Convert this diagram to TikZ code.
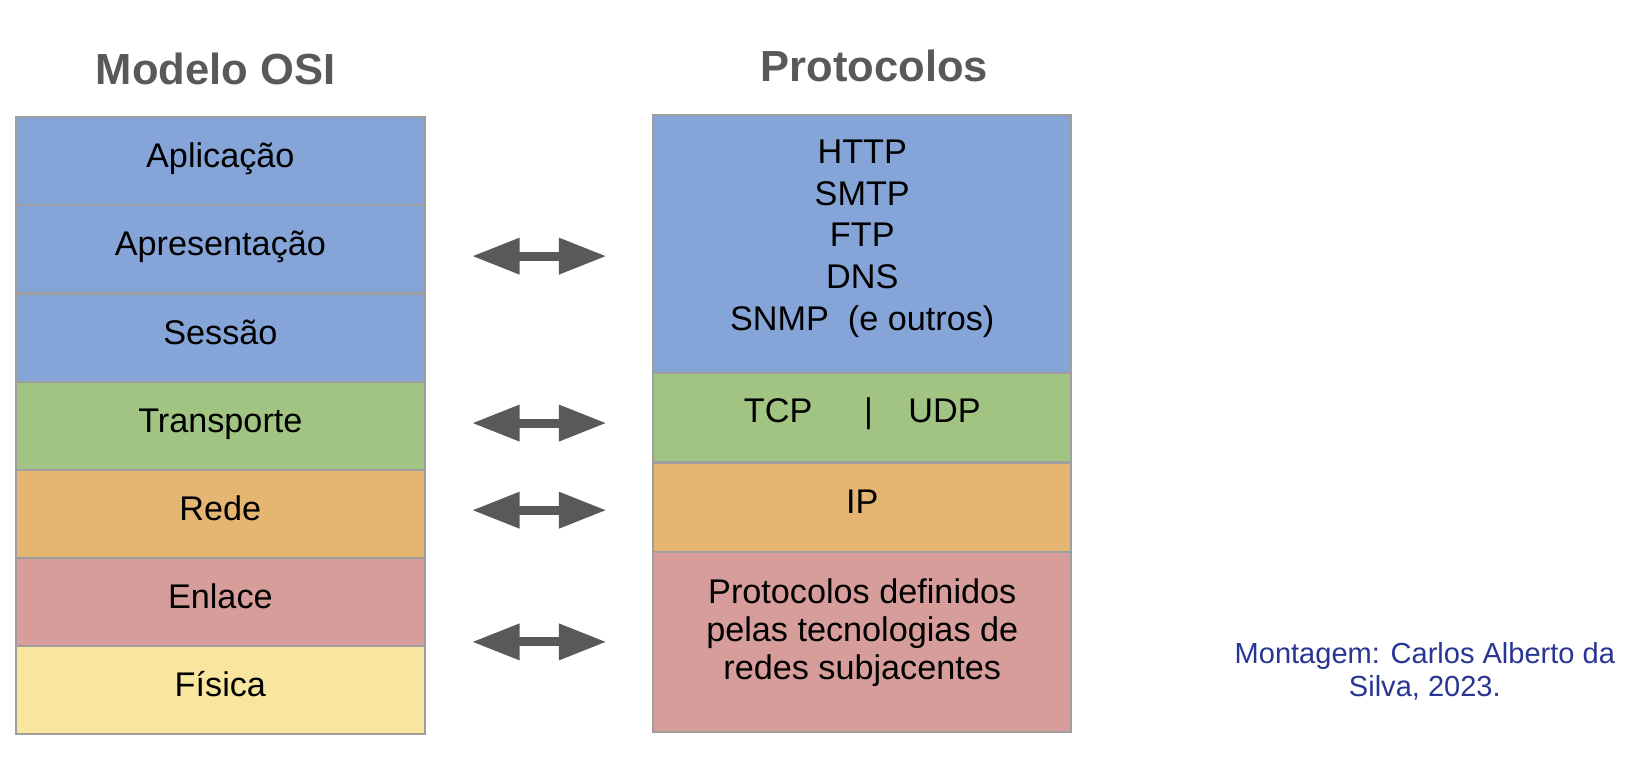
\documentclass[tikz,border=0pt]{standalone}
\usepackage{fontspec}
\setmainfont{Liberation Sans}
\usetikzlibrary{arrows.meta}
\definecolor{osiblue}{HTML}{85A4D7}
\definecolor{osigreen}{HTML}{A2C482}
\definecolor{osiorange}{HTML}{E4B672}
\definecolor{osired}{HTML}{D69D9B}
\definecolor{osiyellow}{HTML}{F8E69E}
\definecolor{framegray}{HTML}{9E9E9E}
\definecolor{arrowgray}{HTML}{595959}
\definecolor{creditblue}{HTML}{283593}
\tikzset{
  layer/.style={draw=framegray,line width=1pt,outer sep=0pt,inner sep=0pt,
    font=\fontsize{16.5}{20}\selectfont},
  osibox/.style={layer,minimum width=197.5pt,minimum height=42.5pt,
    text height=10pt,text depth=3.7pt},
  protobox/.style={layer,minimum width=201.5pt},
  heading/.style={text=arrowgray,font=\fontsize{21}{25}\bfseries\selectfont},
  link/.style={{Triangle[length=23pt,width=16.5pt]}-{Triangle[length=23pt,width=16.5pt]},
    line width=4.3pt,color=arrowgray}
}
\begin{document}
\begin{tikzpicture}[x=0.5pt,y=-0.5pt]
            \useasboundingbox (0,0) rectangle (1568,754);
            % titles
            \node[heading] (osititle) at (208,66) {Modelo OSI};
            \node[heading] (prototitle) at (843,64) {Protocolos};
            % OSI layers
            \node[osibox,fill=osiblue] (aplic) at (212.5,155.5) {Aplicação};
            \node[osibox,fill=osiblue] (apres) at (212.5,240.5) {Apresentação};
            \node[osibox,fill=osiblue] (sessao) at (212.5,325.5) {Sessão};
            \node[osibox,fill=osigreen] (transp) at (212.5,410.5) {Transporte};
            \node[osibox,fill=osiorange] (rede) at (212.5,495.5) {Rede};
            \node[osibox,fill=osired] (enlace) at (212.5,580.5) {Enlace};
            \node[osibox,fill=osiyellow] (fisica) at (212.5,665.5) {Física};
            % protocol stack
            \node[protobox,fill=osiblue,minimum height=124.5pt] (app) at (831.5,235.5) {};
            \node[protobox,fill=osigreen,minimum height=43pt] (tcpudp) at (831.5,403) {};
            \node[protobox,fill=osiorange,minimum height=43pt] (ip) at (831.5,489) {};
            \node[protobox,fill=osired,minimum height=87pt] (sub) at (831.5,619) {};
            \node[align=center,font=\fontsize{16.5}{20.1}\selectfont] (apptext) at (831.5,230)
                {HTTP\\SMTP\\FTP\\DNS\\SNMP\ \ (e outros)};
            \node[font=\fontsize{16.5}{20}\selectfont] (tcptext) at (831.5,399)
                {TCP\hspace{25pt}|\hspace{17pt}UDP};
            \node[font=\fontsize{16.5}{20}\selectfont] (iptext) at (831.5,484) {IP};
            \node[align=center,font=\fontsize{16.5}{18.3}\selectfont] (subtext) at (831.5,610)
                {Protocolos definidos\\pelas tecnologias de\\redes subjacentes};
            % arrows
            \coordinate (a1) at (455,247);
            \coordinate (b1) at (585,247);
            \coordinate (a2) at (455,408);
            \coordinate (b2) at (585,408);
            \coordinate (a3) at (455,492);
            \coordinate (b3) at (585,492);
            \coordinate (a4) at (455,619);
            \coordinate (b4) at (585,619);
            \draw [link] (a1) -- (b1);
            \draw [link] (a2) -- (b2);
            \draw [link] (a3) -- (b3);
            \draw [link] (a4) -- (b4);
            % credit
            \node[align=center,text=creditblue,font=\fontsize{14}{16}\selectfont] (credit) at (1374,647)
                {Montagem: Carlos Alberto da\\Silva, 2023.};
        \end{tikzpicture}
\end{document}
